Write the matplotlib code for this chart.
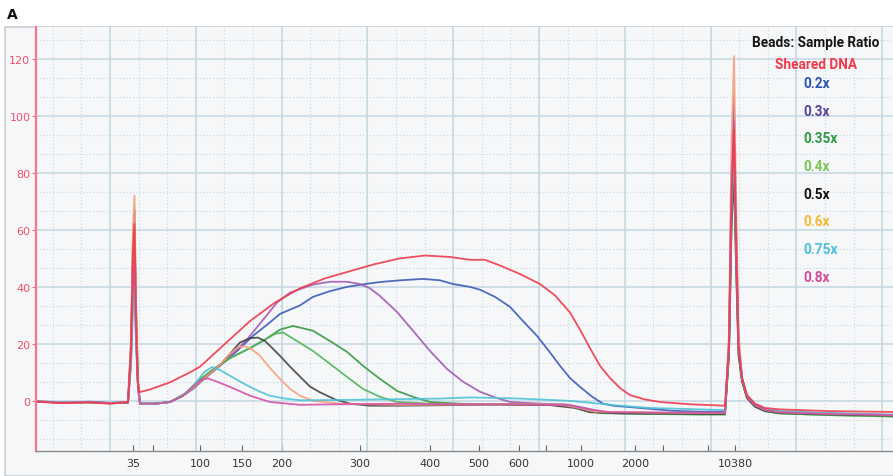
import matplotlib.pyplot as plt
from matplotlib.patches import Rectangle
from matplotlib.ticker import MultipleLocator, FixedLocator
import numpy as np

# Electropherogram traces: (migration position, fluorescence units)
sheared = [(36, -0.3), (60, -0.8), (90, -0.6), (110, -1.0), (125, -0.5), (128, -0.5), (131, 19), (133, 53),
           (134.5, 62), (136, 31), (137.5, 8), (139, 3), (150, 4), (170, 6.5), (190, 10), (200, 12), (225, 20),
           (250, 28), (275, 34.5), (300, 39.5), (325, 43), (350, 45.5), (375, 48), (400, 50), (425, 51),
           (450, 50.5), (470, 49.5), (485, 49.5), (500, 47.5), (520, 44.5), (540, 41), (555, 37), (570, 31),
           (580, 25), (590, 18.5), (600, 12.3), (610, 8), (620, 4.5), (630, 2), (645, 0.5), (660, -0.4),
           (690, -1.2), (725, -1.7), (729, 19), (731.5, 71), (734, 95), (736, 57), (738.5, 19), (742, 8),
           (747, 2), (755, -1), (765, -2.5), (780, -3), (830, -3.6), (893, -3.9)]
r02 = [(36, -0.2), (60, -0.5), (90, -0.4), (110, -0.8), (125, -0.6), (128, -0.6), (131, 14), (133, 38),
       (134.5, 45), (136, 22), (138, 5), (140, -1), (155, -1), (170, -0.4), (183, 1.8), (193, 4.2), (205, 8),
       (220, 12.3), (237, 17.5), (253, 22.8), (268, 27), (280, 30.5), (300, 33.5), (313, 36.5), (330, 38.5),
       (347, 40), (365, 41), (380, 41.7), (400, 42.3), (423, 42.8), (440, 42.3), (453, 41), (470, 40),
       (480, 39), (495, 36.5), (510, 33), (523, 28), (537, 22.8), (550, 17), (560, 12.3), (570, 8), (580, 4.9),
       (592, 1.5), (603, -1), (615, -1.8), (627, -2.1), (650, -2.8), (673, -3.5), (700, -3.8), (725, -3.8),
       (729, 21), (731.5, 78), (734, 104), (736, 62), (738.5, 21), (742, 8), (747, 1.5), (755, -1.5),
       (765, -3), (780, -3.8), (810, -4.2), (850, -4.6), (893, -5)]
r03 = [(36, -0.2), (60, -0.6), (90, -0.3), (110, -0.7), (125, -0.6), (128, -0.6), (131, 14), (133, 41),
       (134.5, 48), (136, 24), (138, 5), (140, -1), (155, -1), (170, -0.4), (183, 1.8), (193, 4.5), (205, 8.2),
       (220, 12.5), (237, 18), (247, 21.5), (262, 28), (277, 34.5), (290, 38), (313, 40.8), (330, 41.8),
       (347, 41.8), (360, 41), (370, 39.5), (380, 36.8), (397, 31.2), (413, 24.6), (430, 17.5), (447, 11.2),
       (463, 6.7), (480, 3.2), (495, 1.2), (510, -0.4), (540, -1), (565, -1.2), (585, -2.5), (600, -3.8),
       (650, -4.2), (700, -4.3), (725, -4.3), (729, 21), (731.5, 80), (734, 107), (736, 64), (738.5, 21),
       (742, 8), (747, 1.5), (755, -1.5), (765, -3.2), (780, -4), (830, -4.6), (893, -5)]
r035 = [(36, -0.3), (60, -0.5), (90, -0.5), (110, -0.8), (125, -0.6), (128, -0.6), (131, 18), (133, 51),
        (134.5, 60), (136, 30), (138, 6), (140, -1), (155, -1), (170, -0.4), (185, 2.5), (200, 7.5),
        (215, 11.5), (230, 15), (250, 18.5), (265, 21.5), (280, 25), (293, 26.3), (313, 24.6), (330, 21),
        (347, 17.2), (363, 12.3), (380, 7.7), (397, 3.5), (413, 1.4), (430, -0.4), (460, -1), (520, -1.3),
        (565, -1.5), (585, -3), (600, -4.3), (650, -4.6), (700, -4.8), (725, -4.8), (729, 18), (731.5, 68),
        (734, 90), (736, 54), (738.5, 18), (742, 7), (747, 1), (755, -2), (765, -3.6), (780, -4.4),
        (830, -5), (893, -5.5)]
r04 = [(36, -0.2), (60, -0.4), (90, -0.6), (110, -0.7), (125, -0.5), (128, -0.5), (131, 17), (133, 47),
       (134.5, 55), (136, 28), (138, 6), (140, -1), (155, -1), (170, -0.4), (185, 2.5), (200, 7.5),
       (215, 11.5), (230, 15), (250, 18.5), (265, 21.5), (275, 23.5), (283, 24), (297, 21), (313, 17.5),
       (330, 13), (347, 8.4), (363, 4.2), (380, 1.4), (397, -0.4), (430, -1), (500, -1.2), (565, -1.4),
       (585, -3), (600, -4.2), (650, -4.5), (700, -4.7), (725, -4.7), (729, 17), (731.5, 64), (734, 85),
       (736, 51), (738.5, 17), (742, 7), (747, 1), (755, -2), (765, -3.6), (780, -4.4), (830, -5),
       (893, -5.4)]
r05 = [(36, -0.3), (60, -0.6), (90, -0.4), (110, -0.9), (125, -0.6), (128, -0.6), (131, 20), (133, 57),
       (134.5, 67), (136, 33), (138, 7), (140, -1), (155, -1), (170, -0.4), (183, 1.8), (193, 4.5), (205, 8.2),
       (220, 12.5), (230, 16.5), (240, 20.5), (250, 22), (258, 22.2), (265, 21), (270, 19.3), (280, 15.8),
       (290, 12), (300, 8.5), (310, 5), (320, 3), (335, 0.5), (350, -1), (370, -1.7), (400, -1.7),
       (450, -1.5), (500, -1.3), (550, -1.5), (575, -2.5), (590, -4), (620, -4.4), (700, -4.6), (725, -4.6),
       (729, 16), (731.5, 60), (734, 80), (736, 48), (738.5, 16), (742, 7), (747, 1), (755, -2),
       (765, -3.6), (780, -4.3), (830, -4.8), (893, -5.2)]
r06 = [(36, -0.2), (60, -0.5), (90, -0.5), (110, -0.8), (125, -0.5), (128, -0.5), (131, 22), (133, 61),
       (134.5, 72), (136, 36), (138, 7), (140, -1), (155, -1), (170, -0.4), (183, 1.8), (193, 4.5), (205, 8.2),
       (220, 12.5), (230, 16.5), (238, 18.8), (245, 19.2), (252, 18), (260, 15.8), (270, 11.5), (280, 7.7),
       (290, 4.2), (300, 1.8), (313, 0), (340, -1), (400, -1.4), (500, -1.2), (560, -1.3), (575, -2.2),
       (595, -3.8), (650, -4.1), (700, -4.2), (725, -4.2), (729, 24), (731.5, 91), (734, 121), (736, 73),
       (738.5, 24), (742, 8), (747, 1.5), (755, -1.5), (765, -3.2), (780, -4), (830, -4.5), (893, -4.9)]
r075 = [(36, -0.3), (60, -0.4), (90, -0.5), (110, -0.7), (125, -0.5), (128, -0.5), (131, 12), (133, 34),
        (134.5, 40), (136, 20), (138, 4), (140, -1), (155, -1), (170, -0.4), (183, 1.8), (195, 6), (204, 10),
        (212, 11.9), (220, 10.8), (230, 8.8), (240, 6.8), (250, 4.9), (260, 3.2), (270, 1.8), (285, 0.8),
        (300, 0.2), (340, 0.3), (400, 0.6), (440, 0.8), (470, 1.2), (520, 0.8), (570, 0), (600, -1),
        (620, -1.7), (650, -2.5), (700, -3), (725, -3.2), (729, 18), (731.5, 66), (734, 88), (736, 53),
        (738.5, 18), (742, 8), (747, 2), (755, -1), (765, -2.8), (780, -3.6), (830, -4.3), (893, -4.8)]
r08 = [(36, -0.2), (60, -0.6), (90, -0.4), (110, -0.8), (125, -0.5), (128, -0.5), (131, 15), (133, 43),
       (134.5, 50), (136, 25), (138, 5), (140, -1), (155, -1), (170, -0.4), (183, 1.8), (193, 5), (202, 7.5),
       (208, 7.9), (215, 7), (230, 4.9), (250, 1.8), (270, -0.4), (300, -1.4), (340, -1.2), (400, -1),
       (450, -1.2), (540, -1.3), (570, -1.6), (590, -3), (610, -4), (700, -4.2), (725, -4.2), (729, 20),
       (731.5, 74), (734, 98), (736, 59), (738.5, 20), (742, 8), (747, 1.5), (755, -1.5), (765, -3.2),
       (780, -4), (830, -4.6), (893, -5)]

series_names = ['0.2x', '0.3x', '0.35x', '0.4x', '0.5x', '0.6x', '0.75x', '0.8x']
series_data = [r02, r03, r035, r04, r05, r06, r075, r08]
line_colors = ['#3d5cb8', '#a35bb5', '#3a9a44', '#52b55a', '#454545', '#f9a07c', '#4fc3d6', '#d452a8']
label_colors = ['#2a55b4', '#5b3f9c', '#2f9a44', '#7cc653', '#111111', '#f7b731', '#4fc0d8', '#d4489c']

# bp size-standard labels at their migration positions
tick_pos = [133, 153, 200, 242, 282, 360, 430, 479, 519, 546, 581, 635, 663, 708, 735]
tick_lbl = ['35', '', '100', '150', '200', '300', '400', '500', '600', '', '1000', '2000', '', '', '10380']

fig = plt.figure(figsize=(8.93, 4.77), dpi=100)
fig.patches.append(Rectangle((5 / 893, 0), 1, 449 / 477, transform=fig.transFigure,
                             facecolor='#f5f7f9', edgecolor='#c9ced2', lw=1.2, zorder=-5))
fig.text(7 / 893, 1 - 15 / 477, 'A', fontsize=10, fontweight='bold', va='center', color='#111')

ax = fig.add_axes([36 / 893, 25 / 477, 857 / 893, 424 / 477])
ax.set_facecolor('#f5f7f9')
ax.set_xlim(36, 893)
ax.set_ylim(-17.6, 131.2)

# grid: solid majors, dotted minors
ax.yaxis.set_major_locator(MultipleLocator(20))
ax.yaxis.set_minor_locator(MultipleLocator(20 / 3))
ax.xaxis.set_minor_locator(MultipleLocator(85.8 / 3, offset=110))
ax.grid(axis='y', which='major', color='#c4d7e2', lw=1.1)
ax.grid(axis='y', which='minor', color='#cdd4d9', lw=0.8, ls=(0, (1, 2)))
ax.grid(axis='x', which='minor', color='#cdd4d9', lw=0.8, ls=(0, (1, 2)))
for gx in np.arange(110, 893, 85.8):
    ax.axvline(gx, color='#c4d7e2', lw=1.1, zorder=0.6)
ax.set_axisbelow(True)

for pts, c in zip(series_data, line_colors):
    xs, ys = zip(*pts)
    ax.plot(xs, ys, color=c, lw=1.3, alpha=0.9)
xs, ys = zip(*sheared)
ax.plot(xs, ys, color='#f03c4c', lw=1.3, alpha=0.9)

ax.xaxis.set_major_locator(FixedLocator(tick_pos))
ax.set_xticklabels(tick_lbl)
ax.tick_params(axis='x', which='major', direction='in', length=4, color='#666',
               labelsize=8, labelcolor='#333', pad=5)
ax.tick_params(which='minor', length=0)
ax.tick_params(axis='y', which='major', direction='out', length=3, color='#f06a82',
               labelsize=8, labelcolor='#f0506a', pad=1)
ax.set_yticks([0, 20, 40, 60, 80, 100, 120])

for s in ['top', 'right']:
    ax.spines[s].set_visible(False)
ax.spines['left'].set_color('#f5758c')
ax.spines['left'].set_linewidth(1.6)
ax.spines['bottom'].set_color('#888')
ax.spines['bottom'].set_linewidth(1.0)

# legend written as coloured text
lg_font = ['Roboto', 'DejaVu Sans']
fig.text(816 / 893, 1 - 43 / 477, 'Beads: Sample Ratio', family=lg_font, fontweight='bold',
         fontsize=9.8, color='#151515', ha='center', va='center')
fig.text(816 / 893, 1 - 65 / 477, 'Sheared DNA', family=lg_font, fontweight='bold',
         fontsize=9.8, color='#f2384a', ha='center', va='center')
for i, (name, c) in enumerate(zip(series_names, label_colors)):
    fig.text(803 / 893, 1 - (84 + 27.7 * i) / 477, name, family=lg_font, fontweight='bold',
             fontsize=9.8, color=c, ha='left', va='center')

plt.savefig('out.png', dpi=100)
